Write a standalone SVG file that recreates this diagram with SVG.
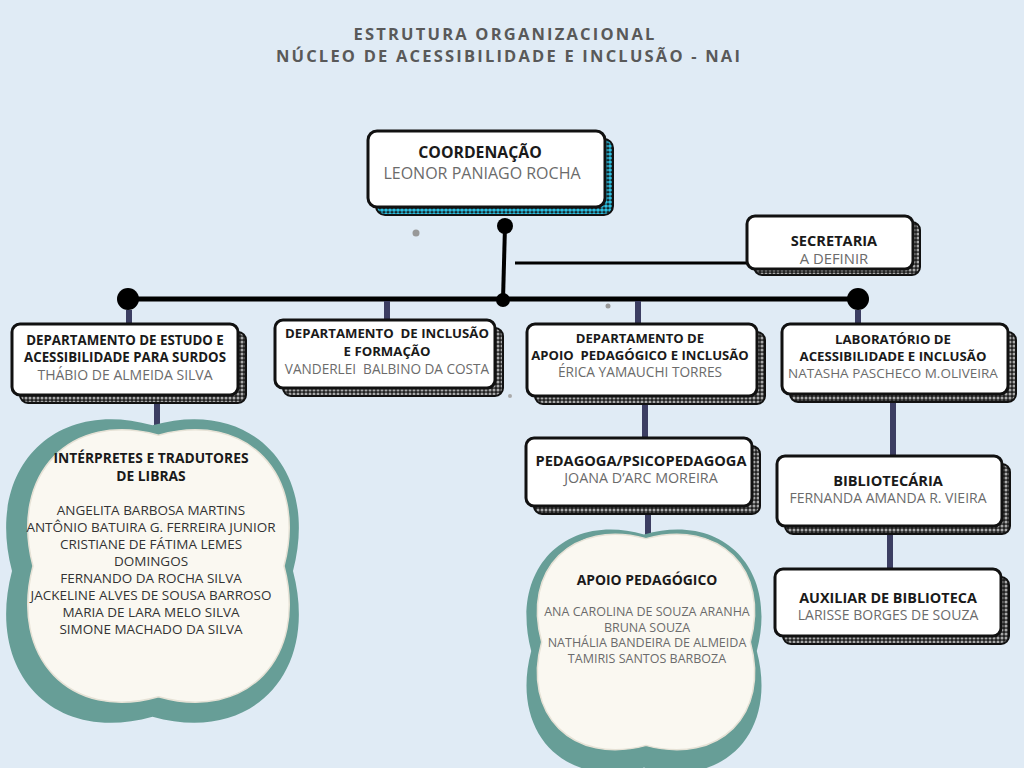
<svg xmlns="http://www.w3.org/2000/svg" width="1024" height="768" viewBox="0 0 1024 768">
<defs>
<pattern id="dotGray" width="4" height="4" patternUnits="userSpaceOnUse">
<rect width="4" height="4" fill="#222"/>
<circle cx="2" cy="2" r="1.5" fill="#a8a8a8"/>
</pattern>
<pattern id="dotCyan" width="4" height="4" patternUnits="userSpaceOnUse">
<rect width="4" height="4" fill="#111"/>
<circle cx="2" cy="2" r="1.85" fill="#2cc0e2"/>
</pattern>
<style>
.box{fill:#fff;stroke:#111;stroke-width:3}
.sh{fill:url(#dotGray);stroke:#111;stroke-width:2}
.shc{fill:url(#dotCyan);stroke:#111;stroke-width:2}
text{white-space:pre}
.b{font-family:"Open Sans","Liberation Sans",sans-serif;font-weight:bold;fill:#1a1a1a;text-anchor:middle}
.r{font-family:"Open Sans","Liberation Sans",sans-serif;fill:#6b6b6b;text-anchor:middle}
.rd{font-family:"Open Sans","Liberation Sans",sans-serif;fill:#333;text-anchor:middle}
.t{font-family:"Open Sans","Liberation Sans",sans-serif;font-weight:bold;fill:#595959;text-anchor:middle;font-size:16.5px;letter-spacing:2.2px}
.drop{stroke:#3c3e62;stroke-width:6;fill:none}
.blk{stroke:#000;fill:none}
.teal{fill:#679e97}
.cream{fill:#faf8f1;stroke:#e6e2d6;stroke-width:1.5}
</style>
</defs>
<rect width="1024" height="768" fill="#e0ebf5"/>
<g id="title">
<text class="t" x="505" y="39.5">ESTRUTURA ORGANIZACIONAL</text>
<text class="t" x="509" y="62">NÚCLEO DE ACESSIBILIDADE E INCLUSÃO - NAI</text>
</g>
<g id="connectors">
<line class="blk" x1="128" y1="299" x2="858" y2="299" stroke-width="5"/>
<line class="blk" x1="505" y1="226" x2="503" y2="300" stroke-width="4"/>
<line class="blk" x1="515" y1="263" x2="748" y2="263" stroke-width="3"/>
<circle cx="505" cy="226" r="8" fill="#000"/>
<circle cx="503" cy="300" r="7" fill="#000"/>
<circle cx="128" cy="299" r="11" fill="#000"/>
<circle cx="858" cy="299" r="11" fill="#000"/>
<line class="drop" x1="129" y1="310" x2="129" y2="326"/>
<line class="drop" x1="387" y1="301" x2="387" y2="322"/>
<line class="drop" x1="638" y1="301" x2="638" y2="326"/>
<line class="drop" x1="858" y1="310" x2="858" y2="326"/>
<line class="drop" x1="157" y1="402" x2="157" y2="437"/>
<line class="drop" x1="645" y1="403" x2="645" y2="440"/>
<line class="drop" x1="648" y1="513" x2="648" y2="545"/>
<line class="drop" x1="893" y1="401" x2="893" y2="458"/>
<line class="drop" x1="890" y1="533" x2="890" y2="571"/>
<circle cx="416" cy="233" r="3.5" fill="#999"/>
<circle cx="608" cy="306" r="2.5" fill="#999"/>
<circle cx="510" cy="396" r="2" fill="#aaa"/>
</g>
<g id="coordenacao">
<rect class="shc" x="376" y="139" width="237" height="76" rx="9"/>
<rect class="box" x="368" y="131" width="237" height="76" rx="9"/>
<text class="b" x="480" y="158" font-size="15.8">COORDENAÇÃO</text>
<text class="r" x="482" y="179" font-size="16">LEONOR PANIAGO ROCHA</text>
</g>
<g id="secretaria">
<rect class="sh" x="754" y="222" width="166" height="53" rx="8"/>
<rect class="box" x="747" y="216" width="166" height="53" rx="8"/>
<text class="b" x="834" y="246" font-size="14.6">SECRETARIA</text>
<text class="r" x="834" y="264" font-size="14.8">A DEFINIR</text>
</g>
<g id="dept-surdos">
<rect class="sh" x="20" y="332" width="226" height="71" rx="8"/>
<rect class="box" x="12" y="324" width="226" height="71" rx="8"/>
<text class="b" x="125" y="345" font-size="13.3">DEPARTAMENTO DE ESTUDO E</text>
<text class="b" x="125" y="362" font-size="13.3">ACESSIBILIDADE PARA SURDOS</text>
<text class="r" x="125" y="380" font-size="14">THÁBIO DE ALMEIDA SILVA</text>
</g>
<g id="dept-inclusao">
<rect class="sh" x="283" y="328" width="220" height="68" rx="8"/>
<rect class="box" x="275" y="320" width="220" height="68" rx="8"/>
<text class="b" x="387" y="338" font-size="13.2">DEPARTAMENTO  DE INCLUSÃO</text>
<text class="b" x="387" y="356" font-size="13.2">E FORMAÇÃO</text>
<text class="r" x="387" y="374" font-size="13.6">VANDERLEI  BALBINO DA COSTA</text>
</g>
<g id="dept-apoio">
<rect class="sh" x="535" y="332" width="230" height="72" rx="8"/>
<rect class="box" x="527" y="324" width="230" height="72" rx="8"/>
<text class="b" x="640" y="343" font-size="13.1">DEPARTAMENTO DE</text>
<text class="b" x="640" y="360" font-size="13.1">APOIO  PEDAGÓGICO E INCLUSÃO</text>
<text class="r" x="640" y="377" font-size="13.7">ÉRICA YAMAUCHI TORRES</text>
</g>
<g id="laboratorio">
<rect class="sh" x="790" y="332" width="226" height="70" rx="8"/>
<rect class="box" x="782" y="324" width="226" height="70" rx="8"/>
<text class="b" x="893" y="344" font-size="13.2">LABORATÓRIO DE</text>
<text class="b" x="893" y="361" font-size="13.2">ACESSIBILIDADE E INCLUSÃO</text>
<text class="r" x="893" y="378" font-size="13.5">NATASHA PASCHECO M.OLIVEIRA</text>
</g>
<g id="pedagoga">
<rect class="sh" x="534" y="446" width="226" height="68" rx="8"/>
<rect class="box" x="526" y="438" width="226" height="68" rx="8"/>
<text class="b" x="641" y="466" font-size="14.6">PEDAGOGA/PSICOPEDAGOGA</text>
<text class="r" x="641" y="483" font-size="14.3">JOANA D’ARC MOREIRA</text>
</g>
<g id="bibliotecaria">
<rect class="sh" x="785" y="464" width="225" height="70" rx="8"/>
<rect class="box" x="777" y="456" width="225" height="70" rx="8"/>
<text class="b" x="888" y="486" font-size="14.6">BIBLIOTECÁRIA</text>
<text class="r" x="888" y="503" font-size="14">FERNANDA AMANDA R. VIEIRA</text>
</g>
<g id="auxiliar">
<rect class="sh" x="783" y="577" width="226" height="67" rx="8"/>
<rect class="box" x="775" y="569" width="226" height="67" rx="8"/>
<text class="b" x="888" y="603" font-size="14.4">AUXILIAR DE BIBLIOTECA</text>
<text class="r" x="888" y="620" font-size="14">LARISSE BORGES DE SOUZA</text>
</g>
<g id="interpretes">
<path class="teal" d="M152.5,425.3 C251.2,397.4 319.9,468.7 293,571 C319.9,673.3 251.2,744.6 152.5,716.7 C53.8,744.6 -14.9,673.3 12,571 C-14.9,468.7 53.8,397.4 152.5,425.3 Z"/>
<path class="cream" d="M158.5,435.3 C246.6,410.3 308,474.3 284,566 C308,657.7 246.6,721.7 158.5,696.7 C70.4,721.7 9,657.7 33,566 C9,474.3 70.4,410.3 158.5,435.3 Z"/>
<text class="b" x="151" y="463" font-size="13.8">INTÉRPRETES E TRADUTORES</text>
<text class="b" x="151" y="481" font-size="13.8">DE LIBRAS</text>
<text class="rd" x="151" y="515" font-size="13.5">ANGELITA BARBOSA MARTINS</text>
<text class="rd" x="151" y="532" font-size="13.5">ANTÔNIO BATUIRA G. FERREIRA JUNIOR</text>
<text class="rd" x="151" y="549" font-size="13.5">CRISTIANE DE FÁTIMA LEMES</text>
<text class="rd" x="151" y="566" font-size="13.5">DOMINGOS</text>
<text class="rd" x="151" y="583" font-size="13.5">FERNANDO DA ROCHA SILVA</text>
<text class="rd" x="151" y="600" font-size="13.5">JACKELINE ALVES DE SOUSA BARROSO</text>
<text class="rd" x="151" y="617" font-size="13.5">MARIA DE LARA MELO SILVA</text>
<text class="rd" x="151" y="634" font-size="13.5">SIMONE MACHADO DA SILVA</text>
</g>
<g id="apoio-pedagogico">
<path class="teal" d="M644,534.4 C723.2,512.1 778.4,569.2 756.8,651 C778.4,732.8 723.2,789.9 644,767.6 C564.8,789.9 509.6,732.8 531.2,651 C509.6,569.2 564.8,512.1 644,534.4 Z"/>
<path class="cream" d="M646,538.6 C719.3,518.8 770.3,569.4 750.3,642 C770.3,714.6 719.3,765.2 646,745.4 C572.7,765.2 521.7,714.6 541.7,642 C521.7,569.4 572.7,518.8 646,538.6 Z"/>
<text class="b" x="647" y="585" font-size="13.9">APOIO PEDAGÓGICO</text>
<text class="r" x="647" y="616" font-size="12.5">ANA CAROLINA DE SOUZA ARANHA</text>
<text class="r" x="647" y="632" font-size="12.5">BRUNA SOUZA</text>
<text class="r" x="647" y="647" font-size="12.5">NATHÁLIA BANDEIRA DE ALMEIDA</text>
<text class="r" x="647" y="663" font-size="12.5">TAMIRIS SANTOS BARBOZA</text>
</g>
</svg>
